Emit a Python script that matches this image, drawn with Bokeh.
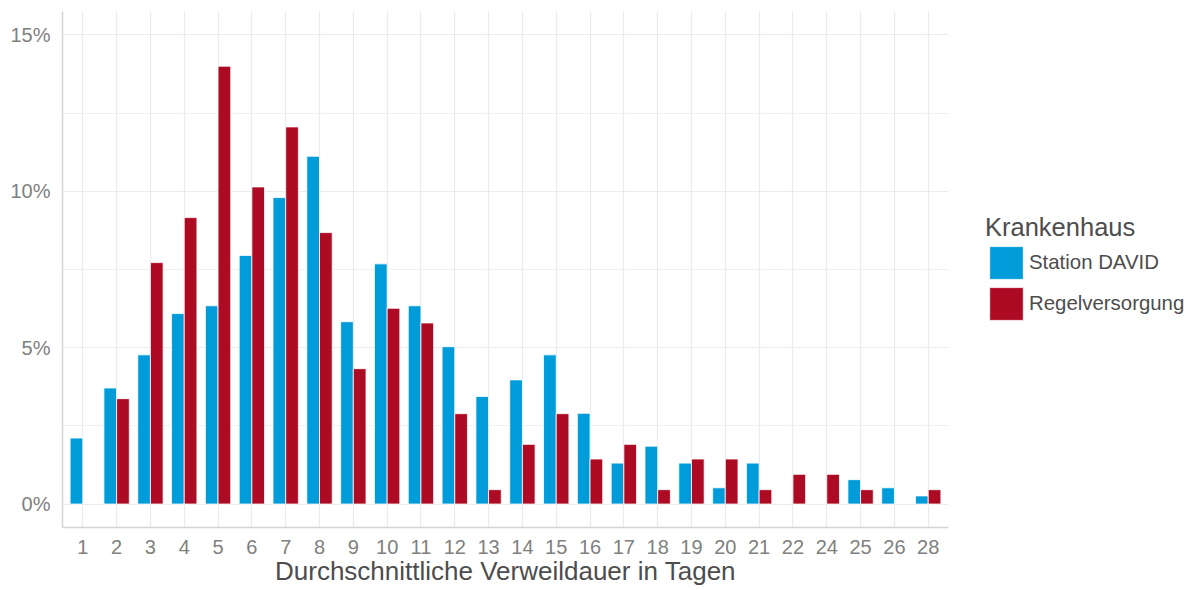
from bokeh.plotting import figure
from bokeh.models import (ColumnDataSource, FactorRange, FixedTicker, PrintfTickFormatter,
                          Legend, LegendItem)
from bokeh.transform import dodge
from bokeh.embed import file_html
from bokeh.resources import INLINE

# ---- data (percent of cases per average length of stay) ----
days = ["1", "2", "3", "4", "5", "6", "7", "8", "9", "10", "11", "12", "13",
        "14", "15", "16", "17", "18", "19", "20", "21", "22", "24", "25", "26", "28"]
station_david = [2.11, 3.71, 4.77, 6.09, 6.34, 7.95, 9.80, 11.12, 5.83, 7.68, 6.34, 5.03, 3.44,
                 3.97, 4.77, 2.90, 1.31, 1.85, 1.31, 0.52, 1.31, 0.0, 0.0, 0.78, 0.52, 0.26]
regelversorgung = [0.0, 3.37, 7.72, 9.16, 14.00, 10.14, 12.06, 8.68, 4.33, 6.26, 5.79, 2.89, 0.46,
                   1.91, 2.89, 1.44, 1.91, 0.46, 1.44, 1.44, 0.46, 0.95, 0.95, 0.46, 0.0, 0.46]
series_names = ["Station DAVID", "Regelversorgung"]
y_ticks = [0, 5, 10, 15]
y_minor = [2.5, 7.5, 12.5]

BLUE = "#009cd9"
RED = "#ad0a24"
FONT = "Liberation Sans"

src_david = ColumnDataSource(dict(
    day=[d for d, v in zip(days, station_david) if v > 0],
    val=[v for v in station_david if v > 0]))
src_regel = ColumnDataSource(dict(
    day=[d for d, v in zip(days, regelversorgung) if v > 0],
    val=[v for v in regelversorgung if v > 0]))

x_range = FactorRange(factors=days, range_padding=0.1, range_padding_units="absolute")

p = figure(frame_width=886, frame_height=516, x_range=x_range, y_range=(-0.75, 15.75),
           output_backend="svg", toolbar_location=None,
           min_border_left=62, min_border_right=240, min_border_top=11, min_border_bottom=0)
p.outline_line_color = None
p.background_fill_color = "white"
p.border_fill_color = "white"

r1 = p.vbar(x=dodge("day", -0.1875, range=p.x_range), top="val", bottom=0, width=0.375,
            source=src_david, fill_color=BLUE, line_color="white", line_width=0.8)
r2 = p.vbar(x=dodge("day", 0.1875, range=p.x_range), top="val", bottom=0, width=0.375,
            source=src_regel, fill_color=RED, line_color="white", line_width=0.8)

# grid
p.xgrid.grid_line_color = "#ebebeb"
p.xgrid.grid_line_width = 1.2
p.ygrid.grid_line_color = "#ebebeb"
p.ygrid.grid_line_width = 1.2
p.ygrid.minor_grid_line_color = "#f0f0f0"
p.ygrid.minor_grid_line_width = 1

# axes
p.yaxis.ticker = FixedTicker(ticks=y_ticks, minor_ticks=y_minor)
p.yaxis.formatter = PrintfTickFormatter(format="%d%%")
for ax in (p.xaxis[0], p.yaxis[0]):
    ax.axis_line_color = "#d4d4d4"
    ax.axis_line_width = 1.5
    ax.major_tick_line_color = None
    ax.minor_tick_line_color = None
    ax.major_tick_out = 0
    ax.major_tick_in = 0
    ax.minor_tick_out = 0
    ax.minor_tick_in = 0
    ax.major_label_text_font = FONT
    ax.major_label_text_font_size = "20px"
    ax.major_label_text_color = "#808080"
p.yaxis.major_label_standoff = 12
p.xaxis.major_label_standoff = 12
p.xaxis.axis_label = "Durchschnittliche Verweildauer in Tagen"
p.xaxis.axis_label_text_font = FONT
p.xaxis.axis_label_text_font_size = "26px"
p.xaxis.axis_label_text_font_style = "normal"
p.xaxis.axis_label_text_color = "#4d4d4d"
p.xaxis.axis_label_standoff = -1

legend = Legend(
    items=[LegendItem(label=series_names[0], renderers=[r1]),
           LegendItem(label=series_names[1], renderers=[r2])],
    title="Krankenhaus", location=(37, 203),
    glyph_width=42, glyph_height=41, spacing=0, label_standoff=2,
    padding=0, margin=0, border_line_color=None, background_fill_alpha=0,
    title_standoff=0,
    label_text_font=FONT, label_text_font_size="20.4px", label_text_color="#4d4d4d",
    title_text_font=FONT, title_text_font_size="25.5px", title_text_color="#4d4d4d",
    title_text_font_style="normal")
p.add_layout(legend, "right")

open("out.html", "w").write(file_html(p, INLINE))
